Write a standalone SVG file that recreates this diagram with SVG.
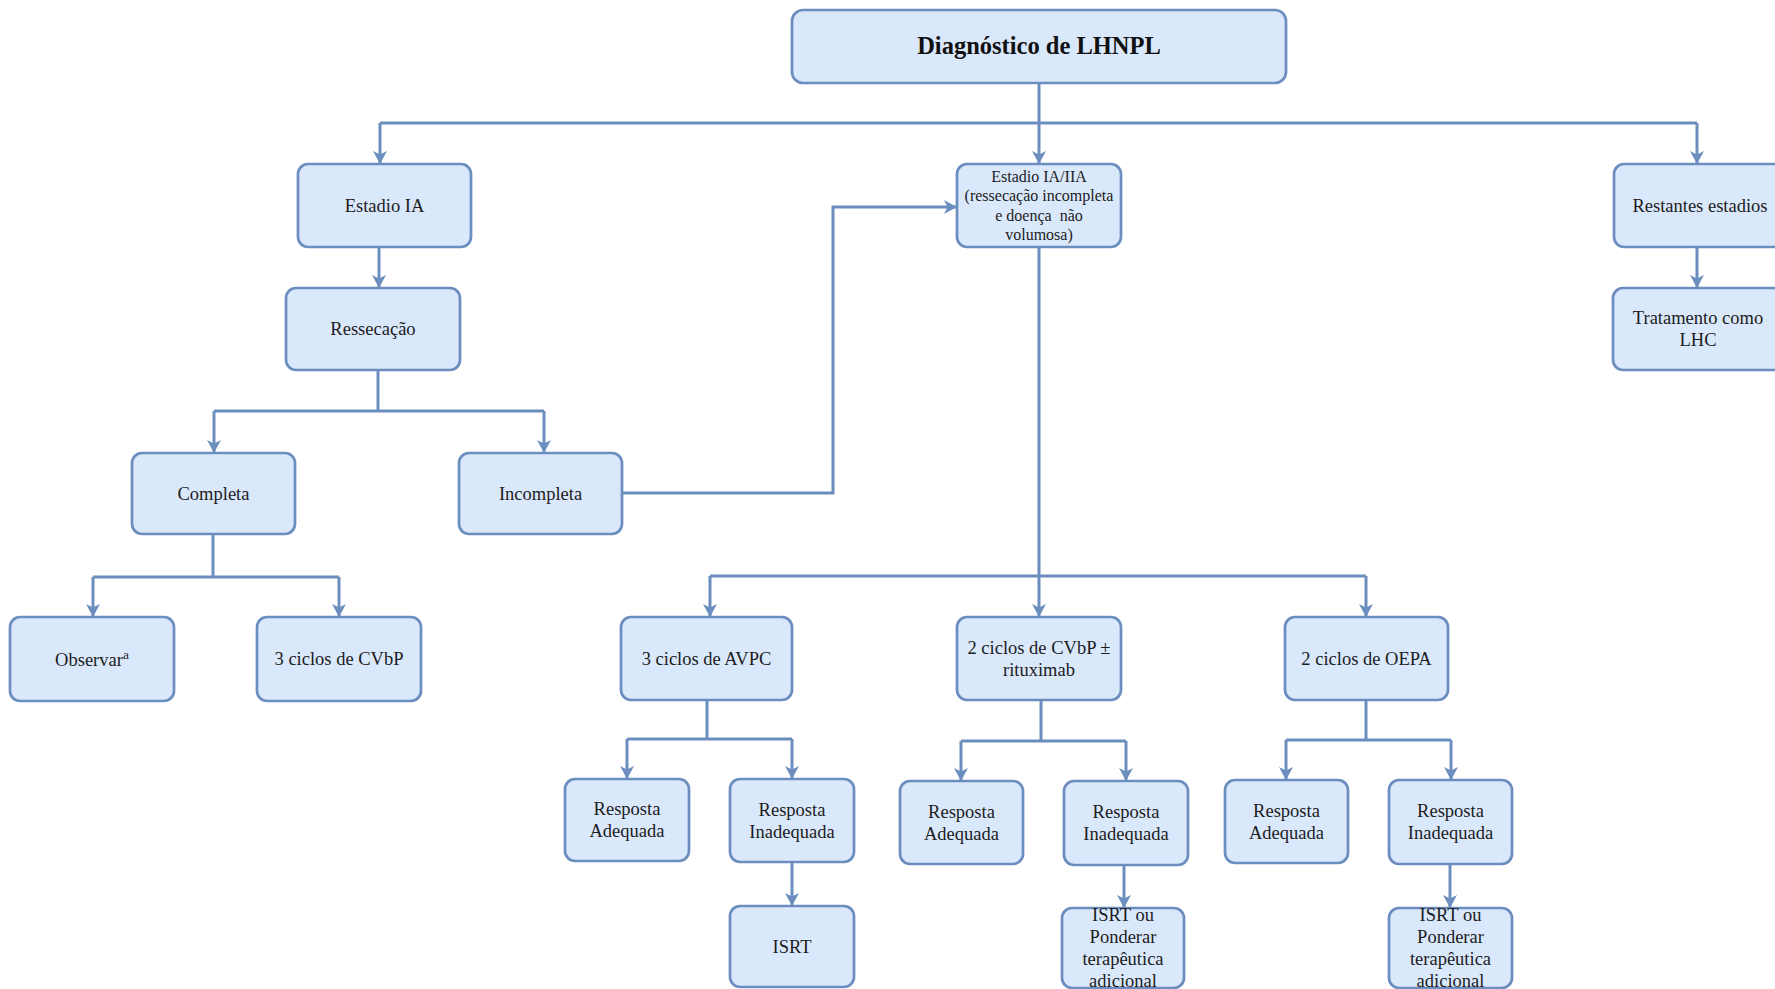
<svg xmlns="http://www.w3.org/2000/svg" width="1775" height="989" viewBox="0 0 1775 989">
  <style>
    .box { fill: #DAE8FC; stroke: #6C8EBF; stroke-width: 2.7; }
    .lbl { font-family: "Liberation Serif", "Times New Roman", serif; font-size: 18.5px; fill: #1c1c1c; text-anchor: middle; }
    .sm { font-size: 16px; }
    .title { font-size: 24.5px; font-weight: bold; fill: #111; }
    .wire { fill: none; stroke: #6C8EBF; stroke-width: 3; stroke-linejoin: miter; }
    .arr { fill: none; stroke: #6C8EBF; stroke-width: 3; marker-end: url(#tip); }
  </style>
  <defs>
    <marker id="tip" markerUnits="userSpaceOnUse" markerWidth="14" markerHeight="14" refX="12" refY="7" orient="auto">
      <path d="M0,0 L13,7 L0,14 L3.5,7 Z" fill="#6C8EBF"/>
    </marker>
  </defs>
  <rect width="1775" height="989" fill="#ffffff"/>

  <!-- connectors -->
  <g id="connectors">
    <path class="arr" d="M1039,83 V163"/>
    <path class="wire" d="M380,123 H1697"/>
    <path class="arr" d="M380,123 V163"/>
    <path class="arr" d="M1697,123 V163"/>
    <path class="arr" d="M379,247 V287"/>
    <path class="arr" d="M1697,247 V287"/>
    <path class="wire" d="M378,370 V411 M214,411 H544"/>
    <path class="arr" d="M214,411 V452"/>
    <path class="arr" d="M544,411 V452"/>
    <path class="wire" d="M213,534 V577 M93,577 H339"/>
    <path class="arr" d="M93,577 V616"/>
    <path class="arr" d="M339,577 V616"/>
    <path class="arr" d="M622,493 H833 V207 H956"/>
    <path class="wire" d="M1039,247 V576 M710,576 H1366"/>
    <path class="arr" d="M710,576 V616"/>
    <path class="arr" d="M1039,576 V616"/>
    <path class="arr" d="M1366,576 V616"/>
    <path class="wire" d="M707,700 V739 M627,739 H792"/>
    <path class="arr" d="M627,739 V778"/>
    <path class="arr" d="M792,739 V778"/>
    <path class="arr" d="M792,862 V905"/>
    <path class="wire" d="M1041,700 V741 M961,741 H1126"/>
    <path class="arr" d="M961,741 V780"/>
    <path class="arr" d="M1126,741 V780"/>
    <path class="arr" d="M1124,865 V907"/>
    <path class="wire" d="M1366,700 V740 M1286,740 H1451"/>
    <path class="arr" d="M1286,740 V779"/>
    <path class="arr" d="M1451,740 V779"/>
    <path class="arr" d="M1450,864 V907"/>
  </g>

  <!-- nodes -->
  <g id="n-diagnostico">
    <rect class="box" x="792" y="10" width="494" height="73" rx="11"/>
    <text class="lbl title" x="1039" y="54">Diagnóstico de LHNPL</text>
  </g>
  <g id="n-estadio-ia">
    <rect class="box" x="298" y="164" width="173" height="83" rx="10"/>
    <text class="lbl" x="384.5" y="211.5">Estadio IA</text>
  </g>
  <g id="n-estadio-ia-iia">
    <rect class="box" x="957" y="164" width="164" height="83" rx="10"/>
    <text class="lbl sm" x="1039" y="181.5">Estadio IA/IIA</text>
    <text class="lbl sm" x="1039" y="201">(ressecação incompleta</text>
    <text class="lbl sm" x="1039" y="220.5">e doença&#160; não</text>
    <text class="lbl sm" x="1039" y="240">volumosa)</text>
  </g>
  <g id="n-restantes">
    <rect class="box" x="1614" y="164" width="180" height="83" rx="10"/>
    <text class="lbl" x="1700" y="211.5">Restantes estadios</text>
  </g>
  <g id="n-tratamento">
    <rect class="box" x="1613" y="288" width="180" height="82" rx="10"/>
    <text class="lbl" x="1698" y="324">Tratamento como</text>
    <text class="lbl" x="1698" y="346">LHC</text>
  </g>
  <g id="n-ressecacao">
    <rect class="box" x="286" y="288" width="174" height="82" rx="10"/>
    <text class="lbl" x="373" y="335">Ressecação</text>
  </g>
  <g id="n-completa">
    <rect class="box" x="132" y="453" width="163" height="81" rx="10"/>
    <text class="lbl" x="213.5" y="499.5">Completa</text>
  </g>
  <g id="n-incompleta">
    <rect class="box" x="459" y="453" width="163" height="81" rx="10"/>
    <text class="lbl" x="540.5" y="499.5">Incompleta</text>
  </g>
  <g id="n-observar">
    <rect class="box" x="10" y="617" width="164" height="84" rx="10"/>
    <text class="lbl" x="92" y="666">Observar<tspan font-size="13.5" dy="-7">a</tspan></text>
  </g>
  <g id="n-3-cvbp">
    <rect class="box" x="257" y="617" width="164" height="84" rx="10"/>
    <text class="lbl" x="339" y="665">3 ciclos de CVbP</text>
  </g>
  <g id="n-3-avpc">
    <rect class="box" x="621" y="617" width="171" height="83" rx="10"/>
    <text class="lbl" x="706.5" y="664.5">3 ciclos de AVPC</text>
  </g>
  <g id="n-2-cvbp">
    <rect class="box" x="957" y="617" width="164" height="83" rx="10"/>
    <text class="lbl" x="1039" y="653.5">2 ciclos de CVbP ±</text>
    <text class="lbl" x="1039" y="675.5">rituximab</text>
  </g>
  <g id="n-2-oepa">
    <rect class="box" x="1285" y="617" width="163" height="83" rx="10"/>
    <text class="lbl" x="1366.5" y="664.5">2 ciclos de OEPA</text>
  </g>
  <g id="n-adequada-1">
    <rect class="box" x="565" y="779" width="124" height="82" rx="10"/>
    <text class="lbl" x="627" y="815">Resposta</text>
    <text class="lbl" x="627" y="837">Adequada</text>
  </g>
  <g id="n-inadequada-1">
    <rect class="box" x="730" y="779" width="124" height="83" rx="10"/>
    <text class="lbl" x="792" y="815.5">Resposta</text>
    <text class="lbl" x="792" y="837.5">Inadequada</text>
  </g>
  <g id="n-isrt">
    <rect class="box" x="730" y="906" width="124" height="81" rx="10"/>
    <text class="lbl" x="792" y="952.5">ISRT</text>
  </g>
  <g id="n-adequada-2">
    <rect class="box" x="900" y="781" width="123" height="83" rx="10"/>
    <text class="lbl" x="961.5" y="817.5">Resposta</text>
    <text class="lbl" x="961.5" y="839.5">Adequada</text>
  </g>
  <g id="n-inadequada-2">
    <rect class="box" x="1064" y="781" width="124" height="84" rx="10"/>
    <text class="lbl" x="1126" y="818">Resposta</text>
    <text class="lbl" x="1126" y="840">Inadequada</text>
  </g>
  <g id="n-ponderar-2">
    <rect class="box" x="1062" y="908" width="122" height="80" rx="10"/>
    <text class="lbl" x="1123" y="921">ISRT ou</text>
    <text class="lbl" x="1123" y="943">Ponderar</text>
    <text class="lbl" x="1123" y="965">terapêutica</text>
    <text class="lbl" x="1123" y="987">adicional</text>
  </g>
  <g id="n-adequada-3">
    <rect class="box" x="1225" y="780" width="123" height="83" rx="10"/>
    <text class="lbl" x="1286.5" y="816.5">Resposta</text>
    <text class="lbl" x="1286.5" y="838.5">Adequada</text>
  </g>
  <g id="n-inadequada-3">
    <rect class="box" x="1389" y="780" width="123" height="84" rx="10"/>
    <text class="lbl" x="1450.5" y="817">Resposta</text>
    <text class="lbl" x="1450.5" y="839">Inadequada</text>
  </g>
  <g id="n-ponderar-3">
    <rect class="box" x="1389" y="908" width="123" height="80" rx="10"/>
    <text class="lbl" x="1450.5" y="921">ISRT ou</text>
    <text class="lbl" x="1450.5" y="943">Ponderar</text>
    <text class="lbl" x="1450.5" y="965">terapêutica</text>
    <text class="lbl" x="1450.5" y="987">adicional</text>
  </g>
</svg>
